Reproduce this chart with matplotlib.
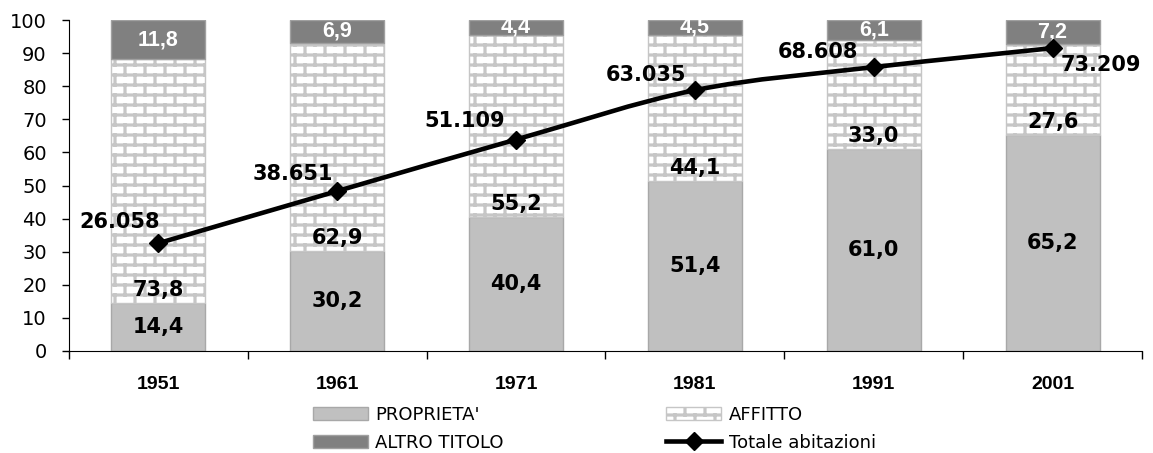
import warnings
import numpy as np
import matplotlib
matplotlib.use('Agg')
import matplotlib.pyplot as plt
from matplotlib import hatch as mhatch
from matplotlib.path import Path
from matplotlib.patches import PathPatch
from matplotlib.lines import Line2D

warnings.filterwarnings('ignore')

anni = ['1951', '1961', '1971', '1981', '1991', '2001']
proprieta = [14.4, 30.2, 40.4, 51.4, 61.0, 65.2]
affitto = [73.8, 62.9, 55.2, 44.1, 33.0, 27.6]
altro = [11.8, 6.9, 4.4, 4.5, 6.1, 7.2]
totale = [26058, 38651, 51109, 63035, 68608, 73209]

# label offsets (points) for the line values
off_tot = [(-28, 15), (-32, 12), (-37, 13), (-35, 11), (-40, 11), (35, -12)]


# brick wall hatch ('b'), 10 rows x 5 bricks per tile
class BrickHatch(mhatch.HatchPatternBase):
    def __init__(self, hatch, density):
        self.rows = 10 if 'b' in hatch else 0
        self.cols = 5
        if self.rows:
            self.num_vertices = self.rows * 2 + (self.rows + 1) * self.cols * 2
        else:
            self.num_vertices = 0

    def set_vertices_and_codes(self, vertices, codes):
        k = 0
        for i in range(self.rows):
            y = (i + 0.5) / self.rows
            vertices[k] = (0, y)
            vertices[k + 1] = (1, y)
            k += 2
        for i in range(-1, self.rows):
            y0 = (i + 0.5) / self.rows
            y1 = (i + 1.5) / self.rows
            shift = 0.5 * (i % 2)
            for j in range(self.cols):
                xx = (j + 0.25 + shift) / self.cols
                vertices[k] = (xx, y0)
                vertices[k + 1] = (xx, y1)
                k += 2
        codes[0::2] = Path.MOVETO
        codes[1::2] = Path.LINETO


mhatch._hatch_types.append(BrickHatch)
plt.rcParams['hatch.linewidth'] = 2.3


def fmt(v):
    return f"{v:.1f}".replace('.', ',')


fig = plt.figure(figsize=(11.53, 4.53), dpi=100)
ax = fig.add_axes([69 / 1153, 102 / 453, 1073 / 1153, 331 / 453])

x = np.arange(len(anni))
w = 0.526
bottom3 = np.add(proprieta, affitto)
b1 = ax.bar(x, proprieta, w, color='#C0C0C0', edgecolor='#A8A8A8', lw=1)
b2 = ax.bar(x, affitto, w, bottom=proprieta, color='white', edgecolor='#C6C6C6',
            hatch='b', lw=1)
b3 = ax.bar(x, altro, w, bottom=bottom3, color='#808080', edgecolor='#A0A0A0', lw=1)

for i in range(len(x)):
    ax.text(x[i], proprieta[i] / 2, fmt(proprieta[i]), ha='center', va='center',
            fontsize=15, fontweight='bold', family='DejaVu Sans')
    ax.annotate(fmt(affitto[i]), (x[i], proprieta[i]), xytext=(0, 9.5),
                textcoords='offset points', ha='center', va='center',
                fontsize=15, fontweight='bold', family='DejaVu Sans')
    ax.text(x[i], bottom3[i] + altro[i] / 2, fmt(altro[i]), ha='center', va='center',
            fontsize=15.5, fontweight='bold', family='Liberation Sans', color='white')

ax.set_xlim(-0.5, len(x) - 0.5)
ax.set_ylim(0, 100)
ax.set_yticks(np.arange(0, 101, 10))
ax.tick_params(axis='y', direction='out', length=5, width=1, pad=11, labelsize=14,
               labelfontfamily='DejaVu Sans')
ax.set_xticks(x)
ax.set_xticks(np.arange(-0.5, len(x), 1), minor=True)
ax.tick_params(axis='x', which='major', length=0, pad=18, labelsize=14,
               labelfontfamily='Liberation Sans')
ax.tick_params(axis='x', which='minor', direction='out', length=6, width=1)
ax.set_xticklabels(anni, fontsize=14, fontweight='bold', family='Liberation Sans')
ax.spines['top'].set_visible(False)
ax.spines['right'].set_visible(False)

# totale abitazioni on a hidden secondary scale
ax2 = ax.twinx()
ax2.set_ylim(0, 80000)
ax2.axis('off')

px = x.astype(float)
py = np.array(totale, float)
n = len(px)
verts = [(px[0], py[0])]
codes = [Path.MOVETO]
for i in range(n - 1):
    p0 = max(i - 1, 0)
    p3 = min(i + 2, n - 1)
    c1 = (px[i] + (px[i + 1] - px[p0]) / 6, py[i] + (py[i + 1] - py[p0]) / 6)
    c2 = (px[i + 1] - (px[p3] - px[i]) / 6, py[i + 1] - (py[p3] - py[i]) / 6)
    verts += [c1, c2, (px[i + 1], py[i + 1])]
    codes += [Path.CURVE4] * 3
ax2.add_patch(PathPatch(Path(verts, codes), fill=False, lw=3.3, edgecolor='black',
                        capstyle='round', joinstyle='round'))
ax2.plot(x, totale, 'D', color='black', ms=9.5, ls='none')
ax2.set_xlim(-0.5, len(x) - 0.5)

for i in range(n):
    ax2.annotate(f"{totale[i]:,}".replace(',', '.'), (x[i], totale[i]), xytext=off_tot[i],
                 textcoords='offset points', ha='center', va='center',
                 fontsize=15, fontweight='bold', family='DejaVu Sans')

linea = Line2D([], [], color='black', lw=3.3, marker='D', ms=9.5)
handles = [b1, b3, b2, linea]
labels = ["PROPRIETA'", 'ALTRO TITOLO', 'AFFITTO', 'Totale abitazioni']
fig.legend(handles, labels, ncol=2, loc='upper left',
           bbox_to_anchor=(313 / 1153, 1 - 406 / 453), frameon=False,
           borderpad=0, borderaxespad=0, handlelength=3.05, handleheight=0.77,
           handletextpad=0.4, columnspacing=9.0, labelspacing=0.55,
           prop={'family': 'DejaVu Sans', 'size': 13})

fig.savefig('out.png', dpi=100, facecolor='white')
